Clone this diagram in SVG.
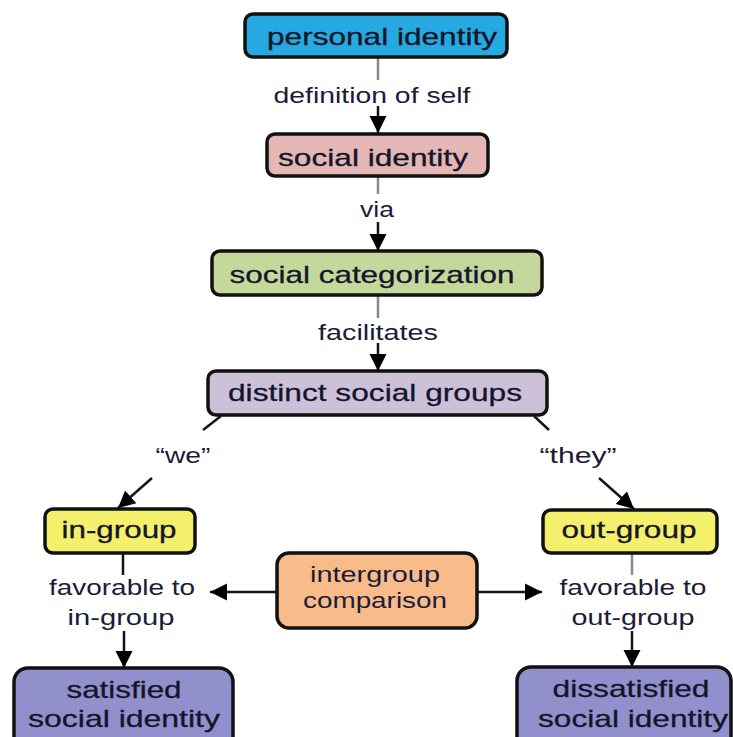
<svg xmlns="http://www.w3.org/2000/svg" width="733" height="737" viewBox="0 0 733 737">
<style>
.box{stroke:#111;stroke-width:3.5}
.t{font-family:"Liberation Sans",Arial,sans-serif;font-size:24px;fill:#15152a;text-anchor:middle;stroke:#15152a;stroke-width:0.3}
.l{font-family:"Liberation Sans",Arial,sans-serif;font-size:22px;fill:#1c1c38;text-anchor:middle}
.g{stroke:#8a8a8a;stroke-width:2.5;fill:none}
.k{stroke:#151515;stroke-width:2.5;fill:none}
</style>
<defs>
<marker id="ah" markerUnits="userSpaceOnUse" markerWidth="18" markerHeight="18" refX="17" refY="8.5" orient="auto" viewBox="0 0 18 17">
<path d="M0,0 L17,8.5 L0,17 z" fill="#000"/>
</marker>
</defs>
<rect width="733" height="737" fill="#fff"/>
<g id="connectors">
<line class="g" x1="378" y1="58" x2="378" y2="80"/>
<line class="k" x1="378" y1="106" x2="378" y2="133" marker-end="url(#ah)"/>
<line class="g" x1="378" y1="177" x2="378" y2="194"/>
<line class="k" x1="378" y1="222" x2="378" y2="251" marker-end="url(#ah)"/>
<line class="g" x1="378" y1="296" x2="378" y2="318"/>
<line class="k" x1="378" y1="343" x2="378" y2="371" marker-end="url(#ah)"/>
<line class="k" x1="221" y1="416" x2="203" y2="430"/>
<line class="k" x1="152" y1="478" x2="118" y2="508" marker-end="url(#ah)"/>
<line class="k" x1="534" y1="416" x2="549" y2="430"/>
<line class="k" x1="599" y1="478" x2="634" y2="509" marker-end="url(#ah)"/>
<line class="k" x1="123" y1="554" x2="123" y2="575"/>
<line class="k" x1="124" y1="631" x2="124" y2="668" marker-end="url(#ah)"/>
<line class="g" x1="632" y1="554" x2="632" y2="575"/>
<line class="k" x1="632" y1="631" x2="632" y2="667" marker-end="url(#ah)"/>
<line class="k" x1="277" y1="592" x2="210" y2="592" marker-end="url(#ah)"/>
<line class="k" x1="477" y1="592" x2="542" y2="592" marker-end="url(#ah)"/>
<text class="l" x="372" y="103" textLength="197" lengthAdjust="spacingAndGlyphs">definition of self</text>
<text class="l" x="377" y="217" textLength="34" lengthAdjust="spacingAndGlyphs">via</text>
<text class="l" x="378" y="340" textLength="120" lengthAdjust="spacingAndGlyphs">facilitates</text>
<text class="l" x="183" y="463" textLength="55" lengthAdjust="spacingAndGlyphs">“we”</text>
<text class="l" x="578" y="463" textLength="77" lengthAdjust="spacingAndGlyphs">“they”</text>
<text class="l" x="122" y="595" textLength="146" lengthAdjust="spacingAndGlyphs">favorable to</text>
<text class="l" x="121" y="625" textLength="107" lengthAdjust="spacingAndGlyphs">in-group</text>
<text class="l" x="633" y="595" textLength="147" lengthAdjust="spacingAndGlyphs">favorable to</text>
<text class="l" x="633" y="625" textLength="123" lengthAdjust="spacingAndGlyphs">out-group</text>
</g>
<g id="personal-identity">
<rect class="box" x="245" y="14" width="262" height="43" rx="8" fill="#26a9e0"/>
<text class="t" x="382" y="45" textLength="230" lengthAdjust="spacingAndGlyphs">personal identity</text>
</g>
<g id="social-identity">
<rect class="box" x="267" y="134" width="221" height="42" rx="8" fill="#e4b6b4"/>
<text class="t" x="373" y="166" textLength="190" lengthAdjust="spacingAndGlyphs">social identity</text>
</g>
<g id="social-categorization">
<rect class="box" x="212" y="251" width="330" height="44" rx="8" fill="#c4d89c"/>
<text class="t" x="372" y="283" textLength="285" lengthAdjust="spacingAndGlyphs">social categorization</text>
</g>
<g id="distinct-social-groups">
<rect class="box" x="208" y="371" width="339" height="44" rx="8" fill="#cdc1da"/>
<text class="t" x="375" y="401" textLength="294" lengthAdjust="spacingAndGlyphs">distinct social groups</text>
</g>
<g id="in-group">
<rect class="box" x="45" y="509" width="150" height="44" rx="8" fill="#f4f06c"/>
<text class="t" x="119" y="538" textLength="115" lengthAdjust="spacingAndGlyphs">in-group</text>
</g>
<g id="out-group">
<rect class="box" x="543" y="510" width="174" height="43" rx="8" fill="#f4f06c"/>
<text class="t" x="629" y="538" textLength="135" lengthAdjust="spacingAndGlyphs">out-group</text>
</g>
<g id="intergroup-comparison">
<rect class="box" x="277" y="553" width="200" height="75" rx="12" fill="#f9bb8a"/>
<text class="l" x="375" y="582" textLength="130" lengthAdjust="spacingAndGlyphs">intergroup</text>
<text class="l" x="375" y="608" textLength="144" lengthAdjust="spacingAndGlyphs">comparison</text>
</g>
<g id="satisfied-social-identity">
<rect class="box" x="14" y="668" width="219" height="90" rx="14" fill="#9290cc"/>
<text class="t" x="124" y="698" textLength="115" lengthAdjust="spacingAndGlyphs">satisfied</text>
<text class="t" x="124" y="727" textLength="192" lengthAdjust="spacingAndGlyphs">social identity</text>
</g>
<g id="dissatisfied-social-identity">
<rect class="box" x="517" y="667" width="214" height="90" rx="14" fill="#9290cc"/>
<text class="t" x="631" y="697" textLength="157" lengthAdjust="spacingAndGlyphs">dissatisfied</text>
<text class="t" x="633" y="727" textLength="190" lengthAdjust="spacingAndGlyphs">social identity</text>
</g>
</svg>
